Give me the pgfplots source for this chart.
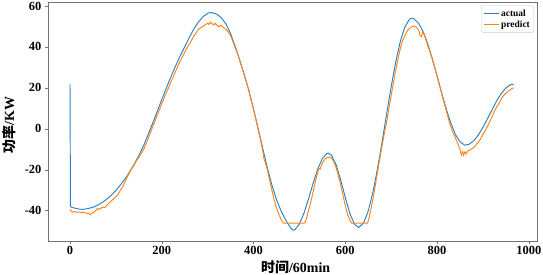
\documentclass[border=0pt]{standalone}
\usepackage{fontspec}
\setmainfont{Liberation Serif}
\newfontfamily\cjk{Noto Sans CJK SC}
\usepackage{pgfplots}
\pgfplotsset{compat=1.18}
\definecolor{cblue}{HTML}{2A82C4}
\definecolor{corange}{HTML}{FF8418}
\begin{document}
\begin{tikzpicture}
\begin{axis}[
  scale only axis, width=489.6bp, height=238.3bp,
  xmin=-48.2, xmax=1019, ymin=-54.9, ymax=61.6,
  xtick={0,200,400,600,800,1000}, ytick={-40,-20,0,20,40,60},
  tick align=outside, tick pos=left, major tick length=3bp,
  axis line style={black!55}, tick style={black!55},
  /pgf/number format/assume math mode=true,
  /pgf/number format/set thousands separator={},
  ticklabel style={font=\fontsize{12.5}{13}\selectfont\bfseries},
  xticklabel style={yshift=1bp},
  xlabel={{\cjk\bfseries 时间}\textbf{/60min}},
  ylabel={{\cjk\bfseries 功率}\textbf{/KW}},
  every axis x label/.style={at={(axis description cs:0.5,0)}, xshift=3bp, yshift=-26bp, anchor=center, font=\fontsize{14}{15}\selectfont},
  every axis y label/.style={at={(axis description cs:0,0.5)}, xshift=-39bp, yshift=-3bp, rotate=90, anchor=center, font=\fontsize{14}{15}\selectfont},
  legend style={at={(0.993,0.989)}, anchor=north east, draw=black!20, rounded corners=2bp,
    font=\fontsize{9.5}{10}\selectfont\bfseries, inner xsep=2bp, inner ysep=2bp, row sep=-1bp},
  legend cell align=left,
  legend image code/.code={\draw[#1] (0bp,0bp) -- (15bp,0bp);},
]
\addplot[cblue, line width=0.95bp] coordinates {
(0,21.8)(1,-38.1)(5,-38.5)(10,-38.8)(20,-39.3)(25,-39.4)(30,-39.4)(40,-39.0)(50,-38.4)(60,-37.4)(70,-36.1)(80,-34.5)(90,-32.5)(100,-30.2)(110,-27.5)(120,-24.5)(130,-21.1)(140,-17.4)(150,-13.1)(160,-8.5)(170,-3.0)(180,2.6)(190,8.4)(200,14.2)(210,19.9)(220,25.4)(230,30.6)(240,35.5)(250,40.0)(260,44.6)(270,48.8)(280,52.2)(290,54.8)(300,56.4)(305,56.8)(310,56.7)(320,56.0)(330,54.2)(340,51.2)(350,46.5)(360,40.2)(370,33.5)(380,26.3)(390,18.5)(400,9.6)(410,0.2)(420,-9.5)(430,-19.0)(440,-27.5)(450,-34.6)(460,-40.2)(470,-44.6)(480,-48.2)(486,-49.6)(490,-49.4)(500,-46.6)(510,-41.3)(520,-34.2)(530,-26.6)(540,-19.7)(550,-14.6)(560,-12.1)(563,-12.0)(570,-13.0)(580,-17.6)(590,-25.0)(600,-33.6)(610,-41.4)(620,-46.7)(629,-48.3)(640,-46.1)(650,-40.3)(660,-31.3)(670,-19.9)(680,-6.8)(690,7.0)(700,20.5)(710,32.7)(720,42.7)(730,49.8)(740,53.5)(745,54.0)(750,53.7)(760,51.5)(770,47.3)(780,41.3)(790,34.0)(800,25.9)(810,17.6)(820,9.7)(830,2.8)(840,-2.8)(850,-6.4)(860,-8.0)(862,-8.0)(870,-7.6)(880,-5.9)(890,-3.1)(900,0.6)(910,4.9)(920,9.3)(930,13.6)(940,17.2)(950,19.9)(960,21.5)(967,21.8)
};
\addlegendentry{actual}
\addplot[corange, line width=0.95bp] coordinates {
(0,-39.6)(3,-40.3)(6,-40.8)(10,-40.5)(15,-40.9)(20,-40.7)(25,-41.0)(30,-40.9)(35,-41.3)(40,-41.4)(44,-42.1)(48,-41.2)(52,-40.8)(56,-40.1)(60,-39.0)(64,-39.4)(68,-38.8)(72,-38.3)(76,-38.6)(80,-37.6)(85,-36.3)(90,-35.3)(95,-34.3)(100,-33.2)(105,-32.0)(110,-30.0)(115,-28.4)(120,-26.0)(125,-23.5)(130,-21.4)(135,-19.3)(140,-17.6)(145,-15.6)(150,-14.0)(155,-12.0)(160,-10.4)(165,-7.8)(170,-5.0)(175,-2.0)(180,0.8)(185,3.6)(190,6.6)(195,9.3)(200,12.2)(205,14.8)(210,17.6)(215,20.1)(220,22.9)(225,25.3)(230,28.0)(235,30.4)(240,33.0)(245,35.1)(250,37.4)(255,39.5)(260,41.5)(265,43.2)(270,45.4)(275,46.9)(280,48.6)(285,49.4)(290,50.0)(295,50.9)(300,51.5)(303,51.0)(306,52.1)(310,51.3)(313,50.7)(316,51.5)(320,50.6)(325,49.8)(328,50.6)(332,49.9)(336,49.2)(340,48.6)(345,47.3)(350,45.5)(355,42.6)(360,39.6)(365,36.6)(370,33.2)(375,29.8)(380,26.0)(385,22.4)(390,18.3)(395,13.9)(400,9.3)(405,4.6)(410,-0.3)(415,-5.2)(420,-10.6)(423,-15.0)(426,-16.6)(430,-20.0)(435,-25.0)(440,-30.0)(445,-34.8)(450,-38.6)(455,-41.8)(460,-44.3)(465,-46.2)(510,-46.2)(513,-45.6)(516,-43.4)(520,-40.0)(525,-35.8)(530,-30.6)(535,-25.8)(538,-22.8)(540,-21.6)(542,-19.3)(545,-19.8)(548,-18.0)(552,-16.0)(556,-14.8)(560,-14.2)(565,-14.0)(570,-14.3)(575,-16.2)(580,-19.0)(585,-23.0)(590,-27.5)(595,-32.5)(600,-37.5)(605,-41.8)(610,-44.8)(614,-46.2)(648,-46.2)(651,-44.6)(655,-40.3)(660,-34.8)(665,-28.3)(670,-21.5)(675,-15.0)(680,-8.5)(685,-2.5)(690,3.0)(695,9.6)(700,16.2)(705,22.6)(710,28.6)(715,34.2)(720,39.3)(725,43.0)(730,45.5)(735,47.8)(740,49.0)(745,49.8)(750,50.2)(755,49.6)(760,48.2)(763,45.5)(766,45.0)(769,47.0)(772,46.4)(775,44.0)(780,40.5)(785,37.2)(790,33.8)(795,29.8)(800,25.6)(805,21.4)(810,17.2)(815,13.0)(820,9.0)(825,4.8)(830,1.0)(835,-2.0)(840,-4.5)(845,-7.2)(850,-10.0)(853,-12.8)(856,-11.2)(858,-13.0)(861,-11.3)(864,-12.2)(867,-10.8)(870,-10.6)(875,-10.0)(880,-9.2)(885,-8.0)(890,-6.5)(895,-5.0)(900,-2.8)(905,-1.0)(910,1.2)(915,3.5)(920,5.8)(925,8.5)(930,10.6)(935,12.4)(940,14.5)(945,16.2)(950,17.3)(955,18.3)(960,19.0)(963,19.6)(967,20.0)
};
\addlegendentry{predict}
\end{axis}
\pgfresetboundingbox
\useasboundingbox (current axis.south west) ++(-47.9bp,-34bp) rectangle ++(543bp,275bp);
\end{tikzpicture}
\end{document}
